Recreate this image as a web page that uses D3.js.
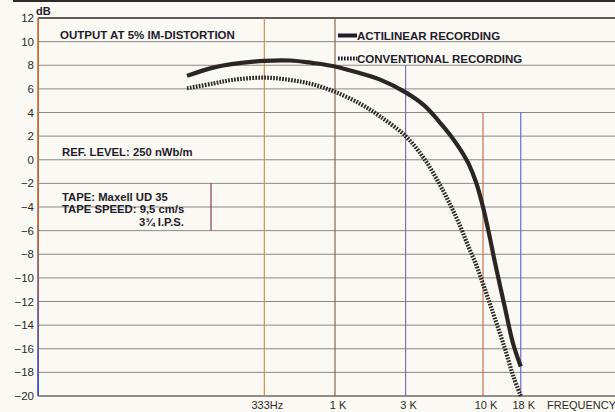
<!DOCTYPE html>
<html>
<head>
<meta charset="utf-8">
<script src="https://cdn.jsdelivr.net/npm/d3@7"></script>
<style>
  body { margin: 0; background: #fbf9f3; }
  svg { display: block; font-family: "Liberation Sans", Arial, Helvetica, sans-serif; }
</style>
</head>
<body>
<script>
'use strict';

// page size
let width = 615,
  height = 412;

// actilinear recording, output (dB) read at these frequencies (Hz)
let actiFreq = [100, 150, 200, 333, 500, 700, 1000, 1500, 2000, 3000, 4000, 5000, 6000, 7000, 8000, 9000, 10000, 11000, 12000, 14000, 16000, 18000];
let actiDb = [7.1, 7.8, 8.1, 8.37, 8.4, 8.2, 7.9, 7.3, 6.8, 5.7, 4.6, 3.3, 2.1, 0.9, -0.35, -1.95, -4.0, -6.3, -8.6, -12.4, -15.6, -17.5];

// conventional recording
let convFreq = [100, 150, 200, 333, 500, 700, 1000, 1500, 2000, 3000, 4000, 5000, 6000, 7000, 8000, 9000, 10000, 11000, 12000, 14000, 16000, 18000];
let convDb = [6.05, 6.45, 6.75, 6.95, 6.75, 6.4, 5.75, 4.7, 3.7, 2.0, 0.1, -1.9, -3.8, -5.6, -7.4, -8.9, -10.5, -12.0, -13.4, -15.9, -18.3, -20];

// axis ticks
let dbTicks = [12, 10, 8, 6, 4, 2, 0, -2, -4, -6, -8, -10, -12, -14, -16, -18, -20];
let freqTicks = [333, 1000, 3000, 10000, 18000];
let freqLabels = ["333Hz", "1 K", "3 K", "10 K", "18 K"];

// look of the vertical frequency lines (top end in dB, colour)
let freqLineStyle = [
  { top: 12, color: "#c98a3c" },
  { top: 12, color: "#7d5e3c" },
  { top: 8, color: "#7c64a8" },
  { top: 4, color: "#c9683e" },
  { top: 4, color: "#5e5ed6" }
];

let ink = "#1f1c2c";

window.onload = function () {
  let svg = d3.select("body")
    .append("svg")
    .attr("width", width)
    .attr("height", height);

  // log frequency scale, 1 kHz .. 10 kHz spans 148 px
  let x = d3.scaleLog()
    .domain([1000, 10000])
    .range([335, 483]);

  let y = d3.scaleLinear()
    .domain([-20, 12])
    .range([396, 18]);

  drawFrame(svg, x, y);
  drawCurves(svg, x, y);
  drawLabels(svg);
  drawLegend(svg);
}

// grid, axis and tick labels
function drawFrame(svg, x, y) {
  // scan edge at the very top
  svg.append("rect")
    .attr("x", 13).attr("y", 0)
    .attr("width", width - 13).attr("height", 2)
    .attr("fill", "#2e2b2a");

  // horizontal grid
  svg.append("g")
    .selectAll("line")
    .data(dbTicks)
    .join("line")
    .attr("x1", 38)
    .attr("x2", width)
    .attr("y1", d => y(d))
    .attr("y2", d => y(d))
    .attr("stroke", d => d == 12 ? "#2a2624" : (d == -20 ? "#6f6b66" : "#8d8984"))
    .attr("stroke-width", d => (d == 12 || d == -20) ? 1.6 : 1);

  // vertical frequency lines
  svg.append("g")
    .selectAll("line")
    .data(freqTicks)
    .join("line")
    .attr("x1", d => x(d))
    .attr("x2", d => x(d))
    .attr("y1", (d, i) => y(freqLineStyle[i].top))
    .attr("y2", y(-20))
    .attr("stroke", (d, i) => freqLineStyle[i].color)
    .attr("stroke-width", 1.1);

  // small divider next to the tape box
  svg.append("line")
    .attr("x1", 211).attr("x2", 211)
    .attr("y1", y(-2)).attr("y2", y(-6))
    .attr("stroke", "#8a2a48")
    .attr("stroke-width", 1.1);

  // left axis, orange fading into blue like the print
  let grad = svg.append("defs").append("linearGradient")
    .attr("id", "axisGrad")
    .attr("x1", 0).attr("x2", 0).attr("y1", 0).attr("y2", 1);
  grad.append("stop").attr("offset", "0%").attr("stop-color", "#c8702c");
  grad.append("stop").attr("offset", "55%").attr("stop-color", "#b4643e");
  grad.append("stop").attr("offset", "100%").attr("stop-color", "#3a4cc8");

  svg.append("rect")
    .attr("x", 37.2).attr("y", y(12))
    .attr("width", 1.8).attr("height", y(-20) - y(12))
    .attr("fill", "url(#axisGrad)");

  // dB tick labels
  svg.append("g")
    .selectAll("text")
    .data(dbTicks)
    .join("text")
    .attr("x", 34)
    .attr("y", d => y(d))
    .attr("dy", "0.35em")
    .attr("text-anchor", "end")
    .attr("font-size", 11.5)
    .attr("fill", "#2c2a2a")
    .text(d => d < 0 ? "\u2212" + Math.abs(d) : d);

  svg.append("text")
    .attr("x", 36)
    .attr("y", 15)
    .attr("font-size", 11)
    .attr("font-weight", "bold")
    .attr("fill", ink)
    .text("dB");

  // frequency tick labels
  svg.append("g")
    .selectAll("text")
    .data(freqTicks)
    .join("text")
    .attr("x", d => x(d) + 3)
    .attr("y", 408.5)
    .attr("text-anchor", "middle")
    .attr("font-size", 11)
    .attr("fill", "#2c2a2a")
    .text((d, i) => freqLabels[i]);

  svg.append("text")
    .attr("x", 547)
    .attr("y", 408.5)
    .attr("font-size", 11)
    .attr("fill", "#2c2a2a")
    .text("FREQUENCY");
}

// the two response curves
function drawCurves(svg, x, y) {
  let line = d3.line()
    .x(d => x(d[0]))
    .y(d => y(d[1]))
    .curve(d3.curveCatmullRom.alpha(0.5));

  svg.append("path")
    .attr("d", line(d3.zip(convFreq, convDb)))
    .attr("fill", "none")
    .attr("stroke", "#2b2523")
    .attr("stroke-width", 4.2)
    .attr("stroke-dasharray", "1.7,1.3");

  svg.append("path")
    .attr("d", line(d3.zip(actiFreq, actiDb)))
    .attr("fill", "none")
    .attr("stroke", "#2b2523")
    .attr("stroke-width", 4.2);
}

// notes printed inside the chart
function drawLabels(svg) {
  let notes = [
    { x: 60, y: 39, t: "OUTPUT AT 5% IM-DISTORTION", s: 11.5 },
    { x: 62, y: 156, t: "REF. LEVEL: 250 nWb/m", s: 11.3 },
    { x: 62, y: 201, t: "TAPE: Maxell UD 35", s: 11.3 },
    { x: 62, y: 213, t: "TAPE SPEED: 9,5 cm/s", s: 11.3 },
    { x: 139, y: 226, t: "3\u00be I.P.S.", s: 11.3 }
  ];
  svg.append("g")
    .selectAll("text")
    .data(notes)
    .join("text")
    .attr("x", d => d.x)
    .attr("y", d => d.y)
    .attr("font-size", d => d.s)
    .attr("font-weight", "bold")
    .attr("fill", ink)
    .text(d => d.t);
}

// legend, top right
function drawLegend(svg) {
  let g = svg.append("g");

  g.append("line")
    .attr("x1", 338).attr("x2", 357)
    .attr("y1", 35.5).attr("y2", 35.5)
    .attr("stroke", "#1f1c2c")
    .attr("stroke-width", 4);

  g.append("line")
    .attr("x1", 338).attr("x2", 357)
    .attr("y1", 58.5).attr("y2", 58.5)
    .attr("stroke", "#1f1c2c")
    .attr("stroke-width", 4)
    .attr("stroke-dasharray", "1.7,1.3");

  g.append("text")
    .attr("x", 357).attr("y", 39.5)
    .attr("font-size", 11.5)
    .attr("font-weight", "bold")
    .attr("fill", ink)
    .text("ACTILINEAR RECORDING");

  g.append("text")
    .attr("x", 357).attr("y", 62.5)
    .attr("font-size", 11.5)
    .attr("font-weight", "bold")
    .attr("fill", ink)
    .text("CONVENTIONAL RECORDING");
}
</script>
</body>
</html>
